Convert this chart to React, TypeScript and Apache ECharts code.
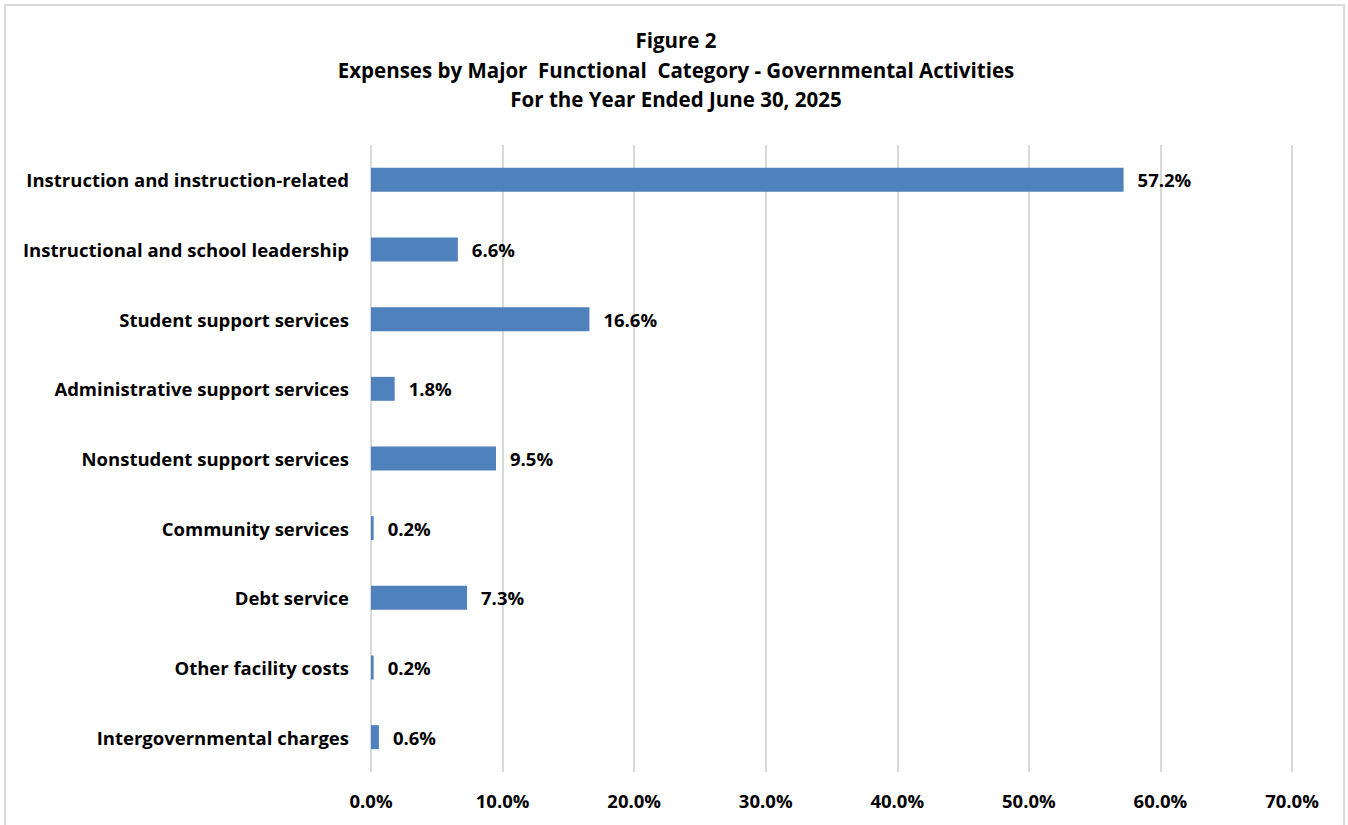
import React, { useEffect, useRef } from "react";
import * as echarts from "echarts";

const categories = [
  "Instruction and instruction-related",
  "Instructional and school leadership",
  "Student support services",
  "Administrative support services",
  "Nonstudent support services",
  "Community services",
  "Debt service",
  "Other facility costs",
  "Intergovernmental charges",
];
const values = [57.2, 6.6, 16.6, 1.8, 9.5, 0.2, 7.3, 0.2, 0.6];
const titleLines = [
  "Figure 2",
  "Expenses by Major  Functional  Category - Governmental Activities",
  "For the Year Ended June 30, 2025",
];

const FONT = "'Open Sans', Lato, sans-serif";

export default function App() {
  const ref = useRef<HTMLDivElement>(null);
  useEffect(() => {
    document.body.style.margin = "0";
    const chart = echarts.init(ref.current!, null, { renderer: "svg" });
    chart.setOption({
      animation: false,
      backgroundColor: "#fff",
      graphic: [
        {
          type: "rect",
          shape: { x: 5, y: 5, width: 1339, height: 840 },
          style: { fill: "none", stroke: "#d9d9d9", lineWidth: 2 },
          silent: true,
        },
        ...titleLines.map((t, i) => ({
          type: "text",
          x: 676,
          y: 40 + i * 29.5,
          style: {
            text: t,
            font: `bold 20.5px ${FONT}`,
            fill: "#000",
            textAlign: "center",
            textVerticalAlign: "middle",
          },
        })),
      ],
      grid: { left: 371, right: 56, top: 145, bottom: 53, containLabel: false },
      xAxis: {
        type: "value",
        min: 0,
        max: 70,
        interval: 10,
        axisLine: { show: false },
        axisTick: { show: false },
        axisLabel: {
          formatter: (v: number) => v.toFixed(1) + "%",
          fontFamily: FONT,
          fontWeight: "bold",
          fontSize: 18.5,
          color: "#000",
          margin: 19,
        },
        splitLine: { show: true, lineStyle: { color: "#d9d9d9", width: 2 } },
      },
      yAxis: {
        type: "category",
        data: categories,
        inverse: true,
        axisLine: { show: false },
        axisTick: { show: false },
        axisLabel: {
          fontFamily: FONT,
          fontWeight: "bold",
          fontSize: 18.5,
          color: "#000",
          margin: 22,
        },
      },
      series: [
        {
          type: "bar",
          data: values,
          barWidth: 24,
          itemStyle: { color: "#4F81BD" },
          label: {
            show: true,
            position: "right",
            distance: 14,
            formatter: (p: any) => Number(p.value).toFixed(1) + "%",
            fontFamily: FONT,
            fontWeight: "bold",
            fontSize: 18.5,
            color: "#000",
          },
        },
      ],
    });
    return () => chart.dispose();
  }, []);
  return (
    <div
      ref={ref}
      style={{ position: "fixed", left: 0, top: 0, width: 1348, height: 825 }}
    />
  );
}
